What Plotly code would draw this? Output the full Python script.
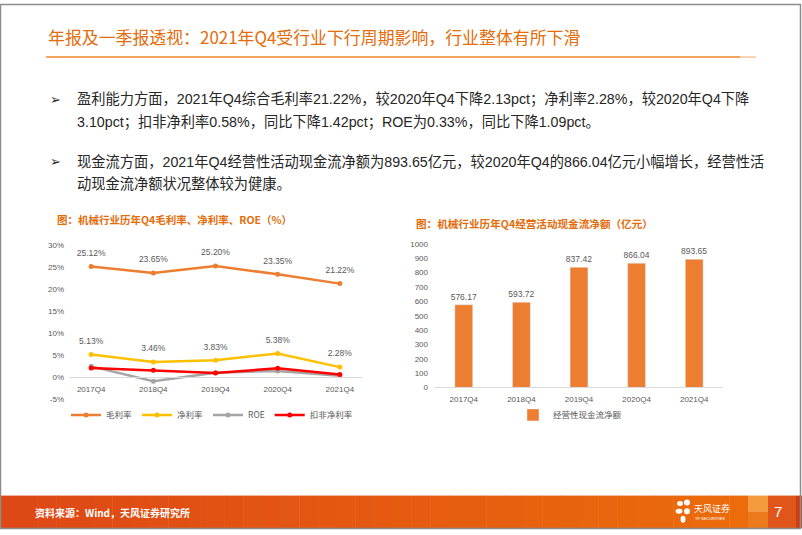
import plotly.graph_objects as go

# ---------------- data ----------------
categories = ["2017Q4", "2018Q4", "2019Q4", "2020Q4", "2021Q4"]
gross_margin = [25.12, 23.65, 25.20, 23.35, 21.22]
net_margin = [5.13, 3.46, 3.83, 5.38, 2.28]
roe = [2.45, -0.95, 1.00, 1.42, 0.33]
deducted_net_margin = [2.05, 1.55, 0.95, 2.00, 0.58]
cashflow = [576.17, 593.72, 837.42, 866.04, 893.65]

left_yticks = [-5, 0, 5, 10, 15, 20, 25, 30]
left_yticktext = ["-5%", "0%", "5%", "10%", "15%", "20%", "25%", "30%"]
right_yticks = [0, 100, 200, 300, 400, 500, 600, 700, 800, 900, 1000]

slide_title = "年报及一季报透视：2021年Q4受行业下行周期影响，行业整体有所下滑"
bullet_lines = [
    "盈利能力方面，2021年Q4综合毛利率21.22%，较2020年Q4下降2.13pct；净利率2.28%，较2020年Q4下降",
    "3.10pct；扣非净利率0.58%，同比下降1.42pct；ROE为0.33%，同比下降1.09pct。",
    "现金流方面，2021年Q4经营性活动现金流净额为893.65亿元，较2020年Q4的866.04亿元小幅增长，经营性活",
    "动现金流净额状况整体较为健康。",
]
left_title = "图：机械行业历年Q4毛利率、净利率、ROE（%）"
right_title = "图：机械行业历年Q4经营活动现金流净额（亿元）"
source_text = "资料来源：Wind，天风证券研究所"

# ---------------- helpers ----------------
W, H = 802, 535
def X(px):
    return px / W
def Y(py):
    return 1 - py / H

ORANGE = "#ED7D31"
YELLOW = "#FFC000"
GRAY = "#A5A5A5"
RED = "#FF0000"
TXT = "#595959"
CJK = "Noto Sans CJK SC"
MIX = "Liberation Sans, Noto Sans CJK SC"

fig = go.Figure()

# ---------------- left chart ----------------
line_specs = [
    ("毛利率", gross_margin, ORANGE, True),
    ("净利率", net_margin, YELLOW, True),
    ("ROE", roe, GRAY, False),
    ("扣非净利率", deducted_net_margin, RED, False),
]
for name, vals, col, _ in line_specs:
    fig.add_trace(go.Scatter(
        x=categories, y=vals, name=name, mode="lines+markers",
        line=dict(color=col, width=2.5),
        marker=dict(color=col, size=5),
        xaxis="x", yaxis="y", legend="legend",
    ))
for name, vals, col, labeled in line_specs:
    if labeled:
        fig.add_trace(go.Scatter(
            x=categories, y=vals, mode="markers+text", showlegend=False,
            marker=dict(size=12, opacity=0),
            text=[f"{v:.2f}%" for v in vals], textposition="top center",
            textfont=dict(size=8.5, color=TXT, family=MIX),
            hoverinfo="skip", xaxis="x", yaxis="y",
        ))

# ---------------- right chart ----------------
fig.add_trace(go.Bar(
    x=categories, y=cashflow, name="经营性现金流净额",
    marker=dict(color=ORANGE), text=[f"{v:.2f}" for v in cashflow],
    textposition="outside", constraintext="none",
    textfont=dict(size=8.5, color=TXT, family=MIX),
    cliponaxis=False, xaxis="x2", yaxis="y2", legend="legend2",
))

# ---------------- shapes (decor) ----------------
shapes = []
shapes.append(dict(type="line", xref="paper", yref="paper", x0=X(46), x1=X(740), y0=Y(54), y1=Y(54),
                   line=dict(color="#F2A462", width=2)))
shapes.append(dict(type="line", xref="paper", yref="paper", x0=X(740), x1=X(756), y0=Y(54), y1=Y(54),
                   line=dict(color="#F8D2B0", width=2)))
n = 40
x_end = 748
c0 = (222, 72, 22)
c1 = (236, 108, 12)
for i in range(n):
    t = i / (n - 1)
    col = tuple(int(c0[k] + (c1[k] - c0[k]) * t) for k in range(3))
    shapes.append(dict(type="rect", xref="paper", yref="paper",
                       x0=X(x_end * i / n), x1=X(x_end * (i + 1) / n + 0.5), y0=Y(533), y1=Y(500),
                       line=dict(width=0), fillcolor="rgb(%d,%d,%d)" % col, layer="below"))
shapes += [
    dict(type="rect", xref="paper", yref="paper", x0=X(748), x1=X(768), y0=Y(516), y1=Y(500),
         line=dict(width=0), fillcolor="#F29A3C", layer="below"),
    dict(type="rect", xref="paper", yref="paper", x0=X(748), x1=X(768), y0=Y(533), y1=Y(516),
         line=dict(width=0), fillcolor="#EA7A1C", layer="below"),
    dict(type="rect", xref="paper", yref="paper", x0=X(768), x1=X(796), y0=Y(533), y1=Y(500),
         line=dict(width=0), fillcolor="#E0561A", layer="below"),
    dict(type="rect", xref="paper", yref="paper", x0=X(796), x1=X(802), y0=Y(533), y1=Y(500),
         line=dict(width=0), fillcolor="#C8401A", layer="below"),
]
for (cx, cy, rx, ry) in [(680, 508, 3, 2.5), (687, 507, 3, 3), (679, 516, 3.5, 2.5),
                         (687, 516, 3, 3), (683, 524, 2.5, 3.5)]:
    shapes.append(dict(type="circle", xref="paper", yref="paper",
                       x0=X(cx - rx), x1=X(cx + rx), y0=Y(cy + ry), y1=Y(cy - ry),
                       line=dict(width=0), fillcolor="white"))
shapes.append(dict(type="rect", xref="paper", yref="paper", x0=X(0.5), x1=X(800.5), y0=Y(533.5), y1=Y(0.5),
                   line=dict(color="#8C8C8C", width=1.5)))

# ---------------- annotations ----------------
ann = []
ann.append(dict(text=slide_title, x=X(46), y=Y(33), xref="paper", yref="paper",
                xanchor="left", yanchor="middle", showarrow=False,
                font=dict(size=16.9, color="#E46C0A", family=CJK)))
bullet_y = [97, 121, 160, 183]
for line, yy in zip(bullet_lines, bullet_y):
    ann.append(dict(text=line, x=X(75), y=Y(yy), xref="paper", yref="paper",
                    xanchor="left", yanchor="middle", showarrow=False,
                    font=dict(size=14.25, color="#262626", family=MIX)))
for yy in (97, 160):
    ann.append(dict(text="➢", x=X(48), y=Y(yy), xref="paper", yref="paper",
                    xanchor="left", yanchor="middle", showarrow=False,
                    font=dict(size=13, color="#262626", family="DejaVu Sans")))
ann.append(dict(text="<b>" + left_title + "</b>", x=X(55), y=Y(219), xref="paper", yref="paper",
                xanchor="left", yanchor="middle", showarrow=False,
                font=dict(size=10.5, color="#E46C0A", family=CJK)))
ann.append(dict(text="<b>" + right_title + "</b>", x=X(414), y=Y(223), xref="paper", yref="paper",
                xanchor="left", yanchor="middle", showarrow=False,
                font=dict(size=10.6, color="#E46C0A", family=CJK)))
ann.append(dict(text="<b>" + source_text + "</b>", x=X(33), y=Y(517), xref="paper", yref="paper",
                xanchor="left", yanchor="middle", showarrow=False,
                font=dict(size=10, color="white", family=CJK)))
ann.append(dict(text="天风证券", x=X(692), y=Y(513), xref="paper", yref="paper",
                xanchor="left", yanchor="middle", showarrow=False,
                font=dict(size=9, color="white", family=CJK)))
ann.append(dict(text="TF SECURITIES", x=X(693), y=Y(523), xref="paper", yref="paper",
                xanchor="left", yanchor="middle", showarrow=False,
                font=dict(size=4, color="white", family="Liberation Sans")))
ann.append(dict(text="7", x=X(778), y=Y(516), xref="paper", yref="paper",
                xanchor="center", yanchor="middle", showarrow=False,
                font=dict(size=15, color="white", family="Liberation Sans")))

axis_font = dict(size=8, color=TXT, family=MIX)

fig.update_layout(
    width=W, height=H, autosize=False,
    margin=dict(l=0, r=0, t=0, b=0),
    paper_bgcolor="white", plot_bgcolor="rgba(0,0,0,0)",
    showlegend=True,
    bargap=0.69,
    shapes=shapes, annotations=ann,
    xaxis=dict(domain=[X(69), X(362)], anchor="free", position=Y(379), type="category",
               showline=True, linecolor="#D9D9D9", linewidth=1, ticks="", showgrid=False,
               zeroline=False, tickfont=axis_font, ticklabelstandoff=5),
    yaxis=dict(domain=[Y(402), Y(245)], anchor="x", range=[-5.01, 30.01],
               tickmode="array", tickvals=left_yticks, ticktext=left_yticktext,
               showgrid=False, zeroline=False, showline=False,
               tickfont=axis_font, ticklabelstandoff=4),
    xaxis2=dict(domain=[X(435), X(723)], anchor="y2", type="category",
                showline=True, linecolor="#D9D9D9", linewidth=1, ticks="", showgrid=False,
                tickfont=axis_font, ticklabelstandoff=4),
    yaxis2=dict(domain=[Y(390), Y(244)], anchor="x2", range=[0, 1000.5], tickvals=right_yticks,
                showgrid=False, zeroline=False, showline=False, tickfont=axis_font,
                ticklabelstandoff=6),
    legend=dict(orientation="h", x=X(212), xanchor="center", y=Y(418), yanchor="middle",
                font=dict(size=8.5, color=TXT, family=CJK), itemwidth=30,
                bgcolor="rgba(0,0,0,0)", tracegroupgap=0),
    legend2=dict(orientation="h", x=X(570), xanchor="center", y=Y(418), yanchor="middle",
                 font=dict(size=8.5, color=TXT, family=CJK), itemwidth=30,
                 bgcolor="rgba(0,0,0,0)"),
)

fig.write_html("out.html", config={"displayModeBar": False},
               post_script="document.body.style.margin='0';document.body.style.padding='0';")
